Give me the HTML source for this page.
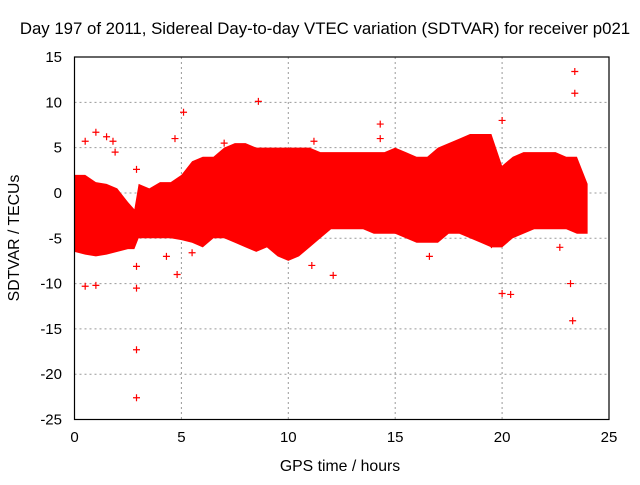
<!DOCTYPE html>
<html><head><meta charset="utf-8"><style>
body{margin:0;background:#fff}
svg text{font-family:"Liberation Sans",sans-serif;font-size:15px;fill:#000}
</style></head><body>
<svg width="640" height="480">
<text x="325" y="34" text-anchor="middle" style="font-size:16.8px">Day 197 of 2011, Sidereal Day-to-day VTEC variation (SDTVAR) for receiver p021</text>
<g id="grid"></g>
<g id="ticks"></g>
<g id="data"></g>
<rect x="74.5" y="57" width="534.5" height="362.5" fill="none" stroke="#000" stroke-width="1.2"/>
<text x="340" y="471" text-anchor="middle" style="font-size:15.8px">GPS time / hours</text>
<text transform="translate(19,238) rotate(-90)" text-anchor="middle" style="font-size:15.8px">SDTVAR / TECUs</text>
</svg>
<script>
const xTicks=[0,5,10,15,20,25];
const yTicks=[15,10,5,0,-5,-10,-15,-20,-25];
const hours=[0,0.5,1,1.5,2,2.5,2.8,3,3.5,4,4.5,5,5.5,6,6.5,7,7.5,8,8.5,9,9.5,10,10.5,11,11.5,12,12.5,13,13.5,14,14.5,15,15.5,16,16.5,17,17.5,18,18.5,19,19.5,20,20.5,21,21.5,22,22.5,23,23.5,24];
const upper=[2,2,1.2,1,0.5,-1,-1.8,1,0.5,1.2,1.2,2,3.5,4,4,5,5.5,5.5,5,5,5,5,5,5,4.5,4.5,4.5,4.5,4.5,4.5,4.5,5,4.5,4,4,5,5.5,6,6.5,6.5,6.5,3,4,4.5,4.5,4.5,4.5,4,4,1];
const lower=[-6.5,-6.8,-7,-6.8,-6.5,-6.2,-6.2,-5,-5,-5,-5,-5.2,-5.5,-6,-5,-5,-5.5,-6,-6.5,-6,-7,-7.5,-7,-6,-5,-4,-4,-4,-4,-4.5,-4.5,-4.5,-5,-5.5,-5.5,-5.5,-4.5,-4.5,-5,-5.5,-6,-6,-5,-4.5,-4,-4,-4,-4,-4.5,-4.5];
const outT=[0.5,1,1.5,1.8,0.5,1,2.9,2.9,2.9,2.9,2.9,4.8,5.1,4.7,8.6,11.2,11.1,12.1,14.3,14.3,16.6,19.5,20,20.4,20,23.3,23.4,23.4,23.2,22.7,7.0,5.5,1.9,4.3];
const outV=[5.7,6.7,6.2,5.7,-10.3,-10.2,2.6,-8.1,-10.5,-17.3,-22.6,-9.0,8.9,6,10.1,5.7,-8,-9.1,7.6,6,-7,-5.7,-11.1,-11.2,8,-14.1,13.4,11,-10,-6,5.5,-6.6,4.5,-7];
const NS='http://www.w3.org/2000/svg';
const X=v=>74.5+v*(534.5/25), Y=v=>57+(15-v)*(362.5/40);
function mk(tag,attrs,parent){const e=document.createElementNS(NS,tag);for(const k in attrs)e.setAttribute(k,attrs[k]);parent.appendChild(e);return e;}
const grid=document.getElementById('grid'),ticks=document.getElementById('ticks'),data=document.getElementById('data');
xTicks.forEach(t=>{
  const l=mk('line',{x1:X(t),x2:X(t),y1:57,y2:419.5,stroke:'#999','stroke-dasharray':'2,3'},grid);
  
  
  const tx=mk('text',{x:X(t),y:442,'text-anchor':'middle'},ticks);tx.textContent=t;
  
  
});
yTicks.forEach(t=>{
  const l=mk('line',{x1:74.5,x2:609,y1:Y(t),y2:Y(t),stroke:'#999','stroke-dasharray':'2,3'},grid);
  
  
  const tx=mk('text',{x:62,y:Y(t)+5,'text-anchor':'end'},ticks);tx.textContent=t;
  
  
});
let pts=hours.map((h,i)=>X(h)+','+Y(upper[i]));
pts=pts.concat(hours.map((h,i)=>X(h)+','+Y(lower[i])).reverse());
const band=mk('polygon',{points:pts.join(' '),fill:'#f00'},data);


outT.forEach((t,i)=>{
  const x=X(t),y=Y(outV[i]);
  const p=mk('path',{d:`M${x-3.5},${y}H${x+3.5}M${x},${y-3.5}V${y+3.5}`,stroke:'#f00','stroke-width':1.2},data);
  
  
});
</script>
</body></html>
